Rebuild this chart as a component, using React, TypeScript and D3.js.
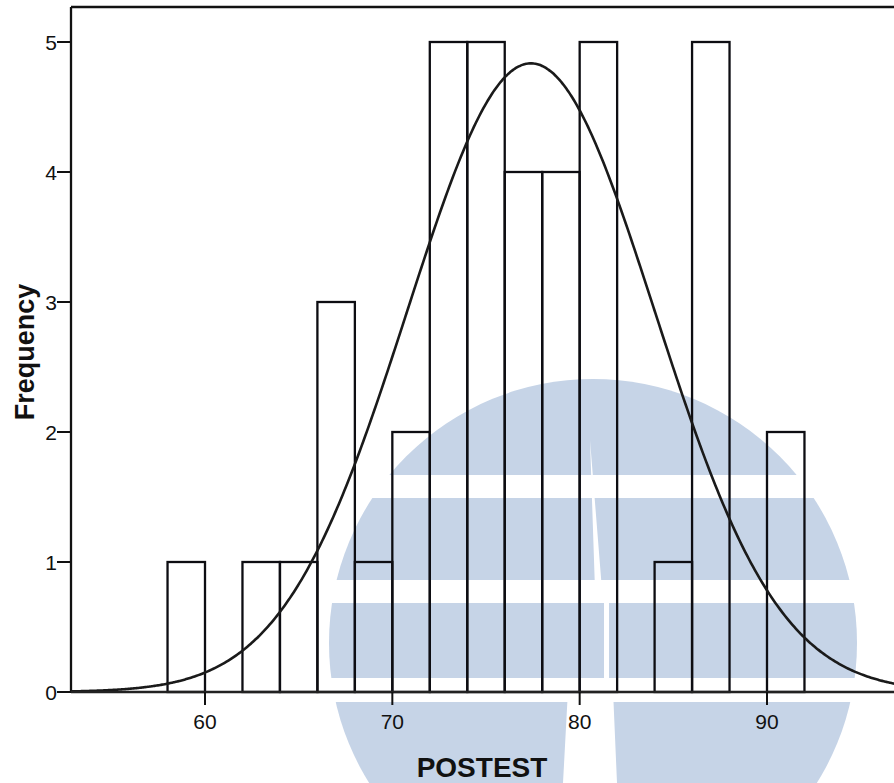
import React from 'react';
import * as d3 from 'd3';

// histogram of POSTEST scores, bin width 2
const binStarts = [58, 60, 62, 64, 66, 68, 70, 72, 74, 76, 78, 80, 82, 84, 86, 88, 90];
const binCounts = [1, 0, 1, 1, 3, 1, 2, 5, 5, 4, 4, 5, 0, 1, 5, 0, 2];
const binWidth = 2;
const xTicks = [60, 70, 80, 90];
const yTicks = [0, 1, 2, 3, 4, 5];
// fitted normal curve
const curveMean = 77.4;
const curveSd = 6.6;

const W = 894;
const H = 783;
const left = 71;
const top = 7;
const bottom = 692;
const font = 'Liberation Sans, Arial, Helvetica, sans-serif';

function Watermark() {
  const blue = '#c6d4e7';
  const cx = 593, cy = 643, r = 264;
  const gap = [
    [590, 440], [595, 590], [604, 590], [604, 690], [568, 690], [563, 783],
    [617, 783], [613, 690], [609, 690], [609, 590], [602, 590],
  ];
  return (
    <g>
      <circle cx={cx} cy={cy} r={r} fill={blue} />
      <rect x={0} y={475} width={W} height={23} fill="#fff" />
      <rect x={0} y={580} width={W} height={23} fill="#fff" />
      <rect x={0} y={678} width={W} height={24} fill="#fff" />
      <polygon points={gap.map((p) => p.join(',')).join(' ')} fill="#fff" />
    </g>
  );
}

export default function App() {
  const x = d3.scaleLinear().domain([60, 90]).range([205, 767]);
  const y = d3.scaleLinear().domain([0, 5]).range([bottom, 42]);
  const n = d3.sum(binCounts);

  const xMin = x.invert(left);
  const xMax = x.invert(W + 5);
  const pts = d3.range(xMin, xMax, 0.1).map((v) => {
    const z = (v - curveMean) / curveSd;
    const f = (n * binWidth * Math.exp(-0.5 * z * z)) / (curveSd * Math.sqrt(2 * Math.PI));
    return [v, f] as [number, number];
  });
  const line = d3.line<[number, number]>()
    .x((d) => x(d[0]))
    .y((d) => y(d[1]))
    .curve(d3.curveBasis);

  return (
    <svg width={W} height={H} style={{ position: 'absolute', left: 0, top: 0, background: '#fff' }}>
      <Watermark />

      {/* bars */}
      {binStarts.map((b, i) => binCounts[i] > 0 && (
        <rect
          key={b}
          x={x(b)}
          y={y(binCounts[i])}
          width={x(b + binWidth) - x(b)}
          height={y(0) - y(binCounts[i])}
          fill="none"
          stroke="#0d0d12"
          strokeWidth={2.3}
        />
      ))}

      {/* normal curve */}
      <path d={line(pts) || ''} fill="none" stroke="#1a1a1a" strokeWidth={2.6} />

      {/* frame */}
      <line x1={left} y1={top} x2={W + 5} y2={top} stroke="#111" strokeWidth={2.3} />
      <line x1={left} y1={top} x2={left} y2={bottom} stroke="#111" strokeWidth={2.3} />
      <line x1={left} y1={bottom} x2={W + 5} y2={bottom} stroke="#222" strokeWidth={2.3} />

      {/* y axis */}
      {yTicks.map((t) => (
        <g key={t}>
          <line x1={57} x2={left} y1={y(t)} y2={y(t)} stroke="#111" strokeWidth={2} />
          <text x={57} y={y(t)} dy="0.36em" textAnchor="end" fontFamily={font} fontSize={21} fill="#111">
            {t}
          </text>
        </g>
      ))}

      {/* x axis */}
      {xTicks.map((t) => (
        <g key={t}>
          <line x1={x(t)} x2={x(t)} y1={bottom} y2={bottom + 13} stroke="#111" strokeWidth={2} />
          <text x={x(t)} y={729} textAnchor="middle" fontFamily={font} fontSize={21} fill="#111">
            {t}
          </text>
        </g>
      ))}

      <text
        transform={`translate(34, 352) rotate(-90)`}
        textAnchor="middle"
        fontFamily={font}
        fontSize={27}
        fontWeight="bold"
        fill="#111"
      >
        Frequency
      </text>
      <text x={482} y={777} textAnchor="middle" fontFamily={font} fontSize={28} fontWeight="bold" fill="#111">
        POSTEST
      </text>
    </svg>
  );
}
